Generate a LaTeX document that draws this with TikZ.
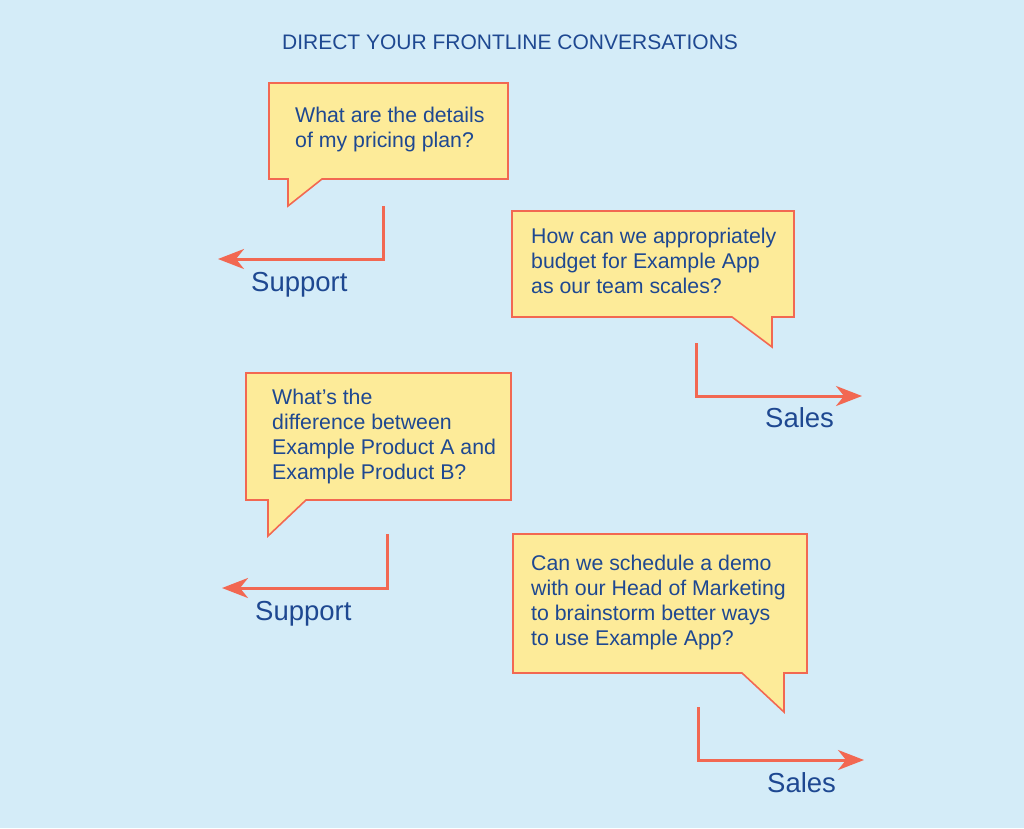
\documentclass[tikz,border=0pt]{standalone}
\usepackage{fontspec}
\setmainfont{Liberation Sans}
\usetikzlibrary{arrows.meta}

\definecolor{bgblue}{RGB}{212,236,248}
\definecolor{noteyellow}{RGB}{253,235,153}
\definecolor{coral}{RGB}{242,104,82}
\definecolor{inkblue}{RGB}{30,72,145}

\begin{document}
\begin{tikzpicture}[x=1pt, y=-1pt,
    bubble/.style={draw=coral, fill=noteyellow, line width=1.6pt, line join=miter},
    qtext/.style={anchor=north west, inner sep=0pt, align=left, text=inkblue, font=\fontsize{21.3}{25}\selectfont},
    route/.style={draw=coral, line width=3pt, -{Stealth[length=26pt, width=20pt, inset=8pt]}},
    team/.style={anchor=base west, inner sep=0pt, text=inkblue, font=\fontsize{27.5}{30}\selectfont},
    titletext/.style={inner sep=0pt, text=inkblue, font=\fontsize{21}{24}\selectfont}]

    \fill[bgblue] (0,0) rectangle (1024,828);
    \useasboundingbox (0,0) rectangle (1024,828);

    \node [titletext] (title) at (510,42) {DIRECT YOUR FRONTLINE CONVERSATIONS};

    % first question, goes to support
    \draw [bubble] (269,83) -- (508,83) -- (508,179) -- (322,179) -- (288,206) -- (288,179) -- (269,179) -- cycle;
    \node [qtext] (q1) at (295,106.7) {What are the details\\of my pricing plan?};
    \coordinate (q1out) at (383,206);
    \coordinate (q1end) at (218,259);
    \draw [route] (q1out) |- (q1end);
    \node [team] (sup1) at (251,291) {Support};

    % second question, goes to sales
    \draw [bubble] (512,211) -- (794,211) -- (794,317) -- (772,317) -- (772,347) -- (732,317) -- (512,317) -- cycle;
    \node [qtext] (q2) at (531,227.7) {How can we appropriately\\budget for Example App\\as our team scales?};
    \coordinate (q2out) at (696,343);
    \coordinate (q2end) at (862,396);
    \draw [route] (q2out) |- (q2end);
    \node [team] (sal1) at (765,427) {Sales};

    % third question, goes to support
    \draw [bubble] (246,373) -- (511,373) -- (511,500) -- (306,500) -- (268,536) -- (268,500) -- (246,500) -- cycle;
    \node [qtext] (q3) at (272,388.7) {What’s the\\difference between\\Example Product A and\\Example Product B?};
    \coordinate (q3out) at (387,534);
    \coordinate (q3end) at (222,588);
    \draw [route] (q3out) |- (q3end);
    \node [team] (sup2) at (255,620) {Support};

    % fourth question, goes to sales
    \draw [bubble] (513,534) -- (807,534) -- (807,673) -- (784,673) -- (784,712) -- (742,673) -- (513,673) -- cycle;
    \node [qtext] (q4) at (531,554.7) {Can we schedule a demo\\with our Head of Marketing\\to brainstorm better ways\\to use Example App?};
    \coordinate (q4out) at (698,707);
    \coordinate (q4end) at (864,760);
    \draw [route] (q4out) |- (q4end);
    \node [team] (sal2) at (767,792) {Sales};
\end{tikzpicture}
\end{document}
